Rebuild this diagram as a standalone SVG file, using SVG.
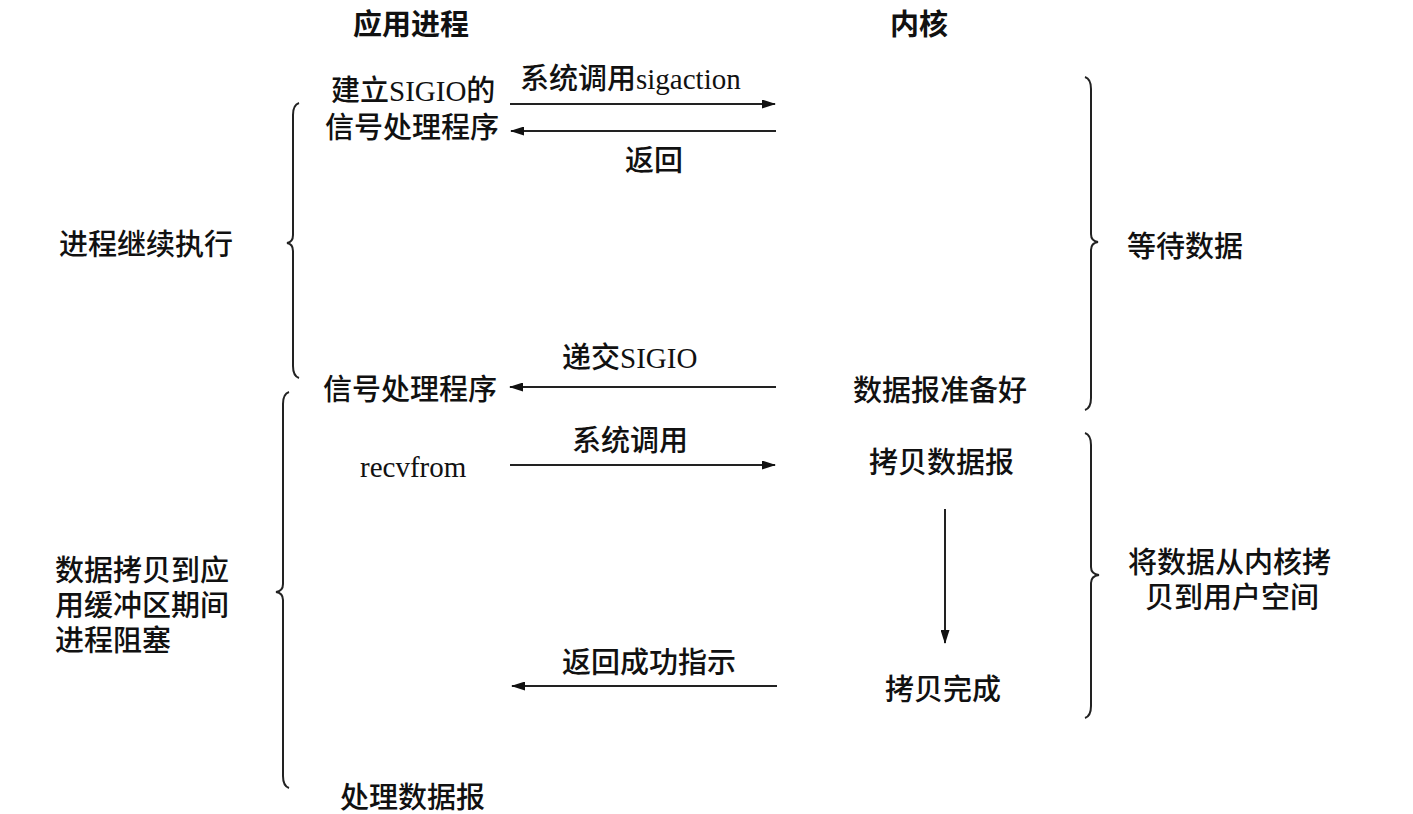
<svg xmlns="http://www.w3.org/2000/svg" width="1413" height="814" viewBox="0 0 1413 814">
<style>
text{font-family:"Liberation Serif","Noto Sans CJK SC",serif;font-size:29px;font-weight:500;fill:#111}
.h{font-family:"Noto Sans CJK SC",sans-serif;font-weight:bold;font-size:29px}
.br{fill:none;stroke:#222;stroke-width:2}
.ar{fill:none;stroke:#222;stroke-width:2}
</style>
<defs>
<marker id="ah" viewBox="0 0 14 9" refX="13" refY="4.5" markerWidth="14" markerHeight="9" markerUnits="userSpaceOnUse" orient="auto">
<path d="M0,0 L14,4.5 L0,9 Z" fill="#111"/>
</marker>
</defs>
<rect width="1413" height="814" fill="#fff"/>
<g id="headers">
<text class="h" x="353" y="35">应用进程</text>
<text class="h" x="890" y="35">内核</text>
</g>
<g id="braces">
<path class="br" d="M299,103 Q293,105 293,115 L293,235 Q293,242 287,243 Q293,244 293,251 L293,366 Q293,376 299,378"/>
<path class="br" d="M289,392 Q283,394 283,404 L283,584 Q283,591 276,592 Q283,593 283,600 L283,776 Q283,786 289,788"/>
<path class="br" d="M1085,77 Q1091,79 1091,89 L1091,234 Q1091,241 1098,242 Q1091,243 1091,250 L1091,398 Q1091,408 1085,410"/>
<path class="br" d="M1085,433 Q1091,435 1091,445 L1091,567 Q1091,574 1099,575 Q1091,576 1091,583 L1091,706 Q1091,716 1085,718"/>
</g>
<g id="app">
<text x="331" y="101">建立SIGIO的</text>
<text x="325" y="138">信号处理程序</text>
<text x="323" y="400">信号处理程序</text>
<text x="360" y="477">recvfrom</text>
<text x="340" y="808">处理数据报</text>
</g>
<g id="kernel">
<text x="853" y="401">数据报准备好</text>
<text x="869" y="473">拷贝数据报</text>
<text x="885" y="700">拷贝完成</text>
</g>
<g id="side-labels">
<text x="59" y="255">进程继续执行</text>
<text x="55" y="581">数据拷贝到应</text>
<text x="55" y="616">用缓冲区期间</text>
<text x="55" y="651">进程阻塞</text>
<text x="1127" y="257">等待数据</text>
<text x="1128" y="573">将数据从内核拷</text>
<text x="1145" y="608">贝到用户空间</text>
</g>
<g id="connectors">
<line class="ar" x1="510" y1="104" x2="775" y2="104" marker-end="url(#ah)"/>
<line class="ar" x1="776" y1="131" x2="511" y2="131" marker-end="url(#ah)"/>
<line class="ar" x1="776" y1="387" x2="510" y2="387" marker-end="url(#ah)"/>
<line class="ar" x1="510" y1="465" x2="775" y2="465" marker-end="url(#ah)"/>
<line class="ar" x1="945" y1="509" x2="945" y2="643" marker-end="url(#ah)"/>
<line class="ar" x1="777" y1="686" x2="512" y2="686" marker-end="url(#ah)"/>
<text x="520" y="89">系统调用sigaction</text>
<text x="625" y="171">返回</text>
<text x="562" y="368">递交SIGIO</text>
<text x="572" y="451">系统调用</text>
<text x="562" y="673">返回成功指示</text>
</g>
</svg>
